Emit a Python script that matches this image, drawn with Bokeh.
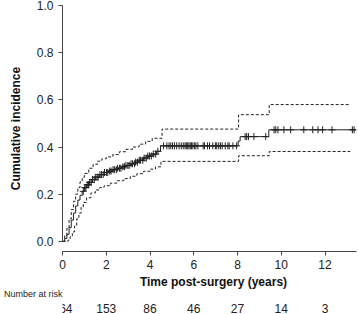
import numpy as np
from bokeh.plotting import figure
from bokeh.models import Range1d, FixedTicker
from bokeh.layouts import column
from bokeh.core.properties import value
from bokeh.embed import file_html
from bokeh.resources import INLINE

# Cumulative incidence estimate (step function)
ci_time = [0, 0.1, 0.2, 0.3, 0.4, 0.5, 0.6, 0.7, 0.8, 0.9, 1.0, 1.1, 1.2, 1.35, 1.5, 1.7, 1.9,
           2.1, 2.3, 2.5, 2.7, 2.9, 3.1, 3.3, 3.5, 3.7, 3.9, 4.1, 4.3, 4.48, 8.03, 8.12, 9.43, 13.4]
ci_value = [0, 0.012, 0.03, 0.058, 0.09, 0.12, 0.15, 0.175, 0.195, 0.212, 0.228, 0.24, 0.25, 0.262,
            0.272, 0.283, 0.292, 0.298, 0.304, 0.31, 0.316, 0.322, 0.329, 0.336, 0.344, 0.353, 0.362,
            0.37, 0.382, 0.405, 0.425, 0.444, 0.473, 0.473]

# Upper confidence limit
upper_time = [0, 0.1, 0.2, 0.3, 0.4, 0.5, 0.6, 0.7, 0.8, 0.9, 1.0, 1.2, 1.4, 1.6, 1.8, 2.0, 2.3,
              2.6, 2.9, 3.2, 3.5, 3.8, 4.1, 4.55, 8.05, 9.45, 13.15]
upper_value = [0, 0.025, 0.055, 0.095, 0.135, 0.17, 0.2, 0.228, 0.252, 0.272, 0.288, 0.31, 0.327,
               0.34, 0.35, 0.358, 0.368, 0.38, 0.39, 0.4, 0.412, 0.424, 0.437, 0.476, 0.537, 0.58, 0.58]

# Lower confidence limit
lower_time = [0, 0.25, 0.35, 0.45, 0.55, 0.65, 0.75, 0.85, 0.95, 1.1, 1.3, 1.5, 1.7, 1.9, 2.2,
              2.5, 2.8, 3.1, 3.4, 3.7, 4.0, 4.25, 4.5, 8.05, 9.45, 13.15]
lower_value = [0, 0.005, 0.02, 0.04, 0.065, 0.095, 0.12, 0.145, 0.165, 0.185, 0.205, 0.218, 0.228,
               0.236, 0.247, 0.257, 0.266, 0.276, 0.287, 0.297, 0.306, 0.316, 0.339, 0.363, 0.381, 0.381]

# Censoring times
censor_time = [0.95, 1.02, 1.07, 1.13, 1.19, 1.24, 1.31, 1.37, 1.45, 1.5, 1.58, 1.63, 1.71, 1.78,
               1.86, 1.92, 2.01, 2.07, 2.16, 2.22, 2.31, 2.37, 2.46, 2.52, 2.61, 2.67, 2.76, 2.83,
               2.9, 2.99, 3.05, 3.13, 3.2, 3.29, 3.34, 3.43, 3.51, 3.57, 3.67, 3.73, 3.83, 3.9,
               3.98, 4.06, 4.15, 4.26, 4.36,
               4.62, 4.77, 4.87, 4.95, 5.03, 5.12, 5.22, 5.33, 5.43, 5.52, 5.6, 5.66, 5.72, 5.78,
               5.84, 5.9, 5.96, 6.04, 6.1, 6.19, 6.43, 6.49, 6.63, 6.72, 6.87, 6.99, 7.05, 7.14,
               7.22, 7.3, 7.44, 7.56, 7.62, 7.79, 7.96,
               8.35, 8.42, 8.5, 8.75, 9.29, 9.67, 9.75, 9.85, 10.12, 10.43, 11.03, 11.44, 11.68,
               11.89, 12.32, 13.25, 13.33]

x_ticks = [0, 2, 4, 6, 8, 10, 12]
y_ticks = [0.0, 0.2, 0.4, 0.6, 0.8, 1.0]
y_tick_labels = ["0.0", "0.2", "0.4", "0.6", "0.8", "1.0"]
risk_time = [0, 2, 4, 6, 8, 10, 12]
risk_count = ["264", "153", "86", "46", "27", "14", "3"]

FONT = "Liberation Sans"
AX = "#444444"
LINE = "#222222"
X_MAX = 13.44
PX_PER_YEAR = 296 / X_MAX

# ---------------- main chart ----------------
p = figure(width=358, height=273, x_range=Range1d(0, X_MAX), y_range=Range1d(-0.043, 1.0),
           output_backend="svg", toolbar_location=None,
           min_border_left=60, min_border_right=2, min_border_top=5, min_border_bottom=22)
p.grid.visible = False
p.outline_line_color = None
p.background_fill_color = "white"
p.border_fill_color = "white"

for ax in (p.xaxis[0], p.yaxis[0]):
    ax.axis_line_color = AX
    ax.major_tick_line_color = AX
    ax.minor_tick_line_color = None
    ax.major_tick_in = 0
    ax.major_tick_out = 4
    ax.major_label_text_font = FONT
    ax.major_label_text_font_size = "12px"
    ax.major_label_text_color = "#222222"

p.xaxis.ticker = FixedTicker(ticks=x_ticks)
p.xaxis.bounds = (0, X_MAX)
p.xaxis.major_label_standoff = 4

p.yaxis.ticker = FixedTicker(ticks=y_ticks)
p.yaxis.bounds = (0, 1)
p.yaxis.major_label_overrides = {t: s for t, s in zip(y_ticks, y_tick_labels)}
p.yaxis.major_label_standoff = 5
p.yaxis.axis_label = "Cumulative incidence"
p.yaxis.axis_label_text_font = FONT
p.yaxis.axis_label_text_font_size = "12px"
p.yaxis.axis_label_text_font_style = "bold"
p.yaxis.axis_label_text_color = "#111111"
p.yaxis.axis_label_standoff = 11

p.step(ci_time, ci_value, mode="after", line_color=LINE, line_width=1)
p.step(upper_time, upper_value, mode="after", line_color=LINE, line_width=1, line_dash="3 2")
p.step(lower_time, lower_value, mode="after", line_color=LINE, line_width=1, line_dash="3 2")

ct = np.array(ci_time)
cv = np.array(ci_value)
idx = np.searchsorted(ct, np.array(censor_time), side="right") - 1
p.scatter(censor_time, cv[idx], marker="cross", size=7, line_color=LINE, line_width=1)

# ---------------- axis title and number-at-risk table ----------------
H2 = 41
q = figure(width=358, height=H2, output_backend="svg", toolbar_location=None,
           x_axis_location=None,
           x_range=Range1d(0, X_MAX), y_range=Range1d(0, H2),
           min_border_left=60, min_border_right=2, min_border_top=0, min_border_bottom=0)
q.grid.visible = False
q.outline_line_color = None
q.background_fill_color = "white"
q.border_fill_color = "white"

# "Number at risk" shown as the single tick label of an invisible left axis
nar_y = H2 - 20
q.yaxis.ticker = FixedTicker(ticks=[nar_y])
q.yaxis.major_label_overrides = {nar_y: "Number at risk"}
q.yaxis.axis_line_color = None
q.yaxis.major_tick_line_color = None
q.yaxis.minor_tick_line_color = None
q.yaxis.major_tick_in = 0
q.yaxis.major_tick_out = 0
q.yaxis.major_label_standoff = 0
q.yaxis.major_label_text_font = FONT
q.yaxis.major_label_text_font_size = "9px"
q.yaxis.major_label_text_color = "#222222"

q.text(x=[152 / PX_PER_YEAR], y=[H2 - 8], text=["Time post-surgery (years)"],
       text_font=value(FONT), text_font_size="12px", text_font_style="bold",
       text_color="#111111", text_align="center", text_baseline="middle")
q.text(x=risk_time, y=[H2 - 34.5] * len(risk_time), text=risk_count,
       text_font=value(FONT), text_font_size="12px", text_color="#222222",
       text_align="center", text_baseline="middle")

layout = column(p, q, spacing=0)
open("out.html", "w").write(file_html(layout, INLINE))
